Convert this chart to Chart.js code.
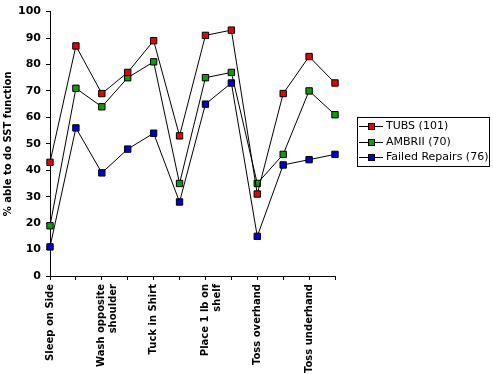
<!DOCTYPE html>
<html>
<head>
<meta charset="utf-8">
<script src="https://cdn.jsdelivr.net/npm/chart.js@4"></script>
<style>
  html, body { margin: 0; padding: 0; background: #fff; }
  #wrap { width: 493px; height: 374px; }
</style>
</head>
<body>
<div id="wrap"><canvas id="sst-chart"></canvas></div>
<script>
// categories (odd slots carry no label in the original)
const categories = [
  "Sleep on Side", "",
  ["Wash opposite", "shoulder"], "",
  "Tuck in Shirt", "",
  ["Place 1 lb on", "shelf"], "",
  "Toss overhand", "",
  "Toss underhand", "",
];

const tubs = [43, 87, 69, 77, 89, 53, 91, 93, 31, 69, 83, 73];
const ambrii = [19, 71, 64, 75, 81, 35, 75, 77, 35, 46, 70, 61];
const failedRepairs = [11, 56, 39, 48, 54, 28, 65, 73, 15, 42, 44, 46];

const seriesNames = ["TUBS (101)", "AMBRII (70)", "Failed Repairs (76)"];
const yTicks = [0, 10, 20, 30, 40, 50, 60, 70, 80, 90, 100];

const COLORS = {
  RED: "#dd0806",
  GREEN: "#129a0c",
  BLUE: "#0000d4",
};

function makeSet(label, data, color) {
  return {
    label: label,
    data: data,
    borderColor: "#000",
    borderWidth: 1,
    tension: 0,
    pointStyle: "rect",
    pointRadius: 4.5,
    pointHoverRadius: 4.5,
    pointBackgroundColor: color,
    pointBorderColor: "#000",
    pointBorderWidth: 1,
  };
}

// legend box drawn by hand: line + square marker, boxed
const boxLegend = {
  id: "boxLegend",
  afterDraw: (chart) => {
    const ctx = chart.ctx;
    const x0 = 357, y0 = 117, w = 132, h = 49;
    ctx.save();
    ctx.strokeStyle = "#000";
    ctx.lineWidth = 1;
    ctx.strokeRect(x0 + 0.5, y0 + 0.5, w, h);
    chart.data.datasets.forEach((ds, i) => {
      const cy = 126 + i * 15.5;
      ctx.beginPath();
      ctx.moveTo(x0 + 2, Math.round(cy) + 0.5);
      ctx.lineTo(x0 + 26, Math.round(cy) + 0.5);
      ctx.stroke();
      ctx.fillStyle = ds.pointBackgroundColor;
      ctx.fillRect(x0 + 11, Math.round(cy) - 3, 7, 7);
      ctx.strokeRect(x0 + 11.5, Math.round(cy) - 2.5, 6, 6);
      ctx.fillStyle = "#000";
      ctx.font = "11px 'DejaVu Sans'";
      ctx.textBaseline = "middle";
      ctx.fillText(ds.label, x0 + 29, cy + 0.5);
    });
    ctx.restore();
  },
};

new Chart(document.getElementById("sst-chart"), {
  type: "line",
  plugins: [boxLegend],
  data: {
    labels: categories,
    datasets: [
      makeSet(seriesNames[0], tubs, COLORS.RED),
      makeSet(seriesNames[1], ambrii, COLORS.GREEN),
      makeSet(seriesNames[2], failedRepairs, COLORS.BLUE),
    ],
  },
  options: {
    responsive: true,
    maintainAspectRatio: false,
    animation: false,
    layout: {
      padding: { top: 7, right: 158, left: 0, bottom: 0 },
    },
    plugins: {
      legend: { display: false },
      tooltip: { enabled: false },
    },
    scales: {
      x: {
        offset: false,
        afterFit: (scale) => {
          scale.height = 98;
        },
        grid: {
          drawOnChartArea: false,
          color: "#000",
          tickLength: 4,
        },
        border: { color: "#000", width: 1 },
        ticks: {
          autoSkip: false,
          minRotation: 90,
          maxRotation: 90,
          padding: 4,
          color: "#000",
          font: { family: "'DejaVu Sans'", size: 10, weight: "bold" },
        },
      },
      y: {
        min: 0,
        max: 100,
        afterFit: (scale) => {
          scale.width = 50;
        },
        afterBuildTicks: (scale) => {
          scale.ticks = yTicks.map((v) => ({ value: v }));
        },
        grid: {
          drawOnChartArea: false,
          color: "#000",
          tickLength: 4,
        },
        border: { color: "#000", width: 1 },
        ticks: {
          padding: 5,
          color: "#000",
          font: { family: "'DejaVu Sans'", size: 11, weight: "bold" },
        },
        title: {
          display: true,
          text: "% able to do SST function",
          color: "#000",
          padding: { top: 2, bottom: 2 },
          font: { family: "'DejaVu Sans'", size: 10, weight: "bold" },
        },
      },
    },
  },
});
</script>
</body>
</html>
